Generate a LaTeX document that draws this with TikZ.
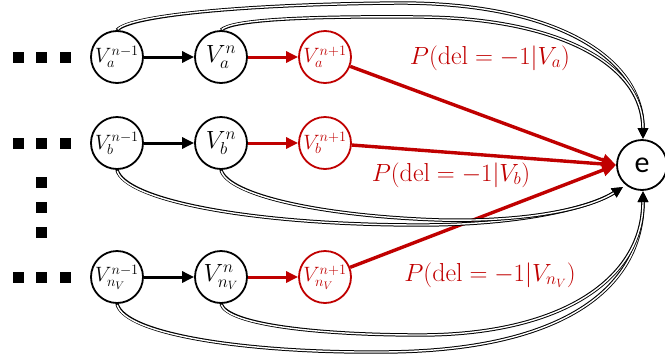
\documentclass[tikz,border=0pt]{standalone}
\usepackage{fontspec}
\newfontfamily\efont{Carlito}
\usetikzlibrary{arrows.meta}
\definecolor{dred}{HTML}{C00000}
\newcommand\dblpath[1]{\draw[dblout] #1; \draw[dblin] #1;}
\begin{document}
\begin{tikzpicture}[x=1pt,y=-1pt,
  vnode/.style={circle,draw,line width=1.8pt,minimum size=52pt,inner sep=0pt},
  rnode/.style={vnode,draw=dred,text=dred},
  sq/.style={fill=black,minimum size=11pt,inner sep=0pt},
  seqarrow/.style={line width=3pt,-{Triangle[length=12pt,width=11pt]}},
  redarrow/.style={seqarrow,draw=dred},
  redlong/.style={line width=3.4pt,draw=dred,-{Triangle[length=14pt,width=12pt]}},
  dblout/.style={line width=3.4pt,-{Triangle[length=11pt,width=10pt]}},
  dblin/.style={line width=1.4pt,white,shorten >=11pt,shorten <=1pt},
  lab/.style={text=dred,font=\fontsize{26}{30}\selectfont},
  small/.style={font=\fontsize{21}{25}\selectfont},
  big/.style={font=\fontsize{26}{30}\selectfont}
]
\useasboundingbox (0,0) rectangle (665,354);

% dots
\node[sq] (da1) at (18,57) {};
\node[sq] (da2) at (41,57) {};
\node[sq] (da3) at (65,57) {};
\node[sq] (db1) at (18,143) {};
\node[sq] (db2) at (41,143) {};
\node[sq] (db3) at (65,143) {};
\node[sq] (dv1) at (41,182) {};
\node[sq] (dv2) at (41,207) {};
\node[sq] (dv3) at (41,232) {};
\node[sq] (dn1) at (18,277) {};
\node[sq] (dn2) at (41,277) {};
\node[sq] (dn3) at (65,277) {};

% nodes
\node[vnode,small] (a1) at (117,57) {$V_a^{n-1}$};
\node[vnode,big]   (a2) at (221,57) {$V_a^{n}$};
\node[rnode,small] (a3) at (325,57) {$V_a^{n+1}$};
\node[vnode,small] (b1) at (117,143) {$V_b^{n-1}$};
\node[vnode,big]   (b2) at (221,143) {$V_b^{n}$};
\node[rnode,small] (b3) at (325,143) {$V_b^{n+1}$};
\node[vnode,small] (n1) at (117,277) {$V_{n_V}^{n-1}$};
\node[vnode,big]   (n2) at (221,277) {$V_{n_V}^{n}$};
\node[rnode,small] (n3) at (325,277) {$V_{n_V}^{n+1}$};
\node[vnode,minimum size=50pt,font=\efont\fontsize{30}{34}\selectfont] (e) at (642,165) {e};

% sequence arrows
\draw[seqarrow] (a1) -- (a2);
\draw[seqarrow] (b1) -- (b2);
\draw[seqarrow] (n1) -- (n2);
\draw[redarrow] (a2) -- (a3);
\draw[redarrow] (b2) -- (b3);
\draw[redarrow] (n2) -- (n3);

% red arrows to e
\draw[redlong] (a3) -- (e.west);
\draw[redlong] (b3) -- (e.west);
\draw[redlong] (n3) -- (e.west);

% labels
\node[lab] (la) at (490,58) {$P(\mathrm{del}=-1|V_a)$};
\node[lab] (lb) at (451,175) {$P(\mathrm{del}=-1|V_b)$};
\node[lab] (ln) at (490,275) {$P(\mathrm{del}=-1|V_{n_V})$};

% double connectors
\coordinate (etop) at (643,139);
\coordinate (ell) at (623,187);
\coordinate (ebot) at (643,191);
\dblpath{(a1.north) .. controls (130,15) and (250,4) .. (400,3) .. controls (560,3) and (643,60) .. (etop)}
\dblpath{(a2.north) .. controls (232,20) and (300,16) .. (420,17) .. controls (560,18) and (643,65) .. (etop)}
\dblpath{(b1.south) .. controls (125,200) and (250,225) .. (420,225) .. controls (520,225) and (590,208) .. (ell)}
\dblpath{(b2.south) .. controls (228,195) and (320,216) .. (440,220) .. controls (530,222) and (590,208) .. (ell)}
\dblpath{(n1.south) .. controls (125,335) and (250,353) .. (380,352) .. controls (560,352) and (643,290) .. (ebot)}
\dblpath{(n2.south) .. controls (228,325) and (320,335) .. (420,335) .. controls (560,335) and (643,280) .. (ebot)}
\end{tikzpicture}
\end{document}
